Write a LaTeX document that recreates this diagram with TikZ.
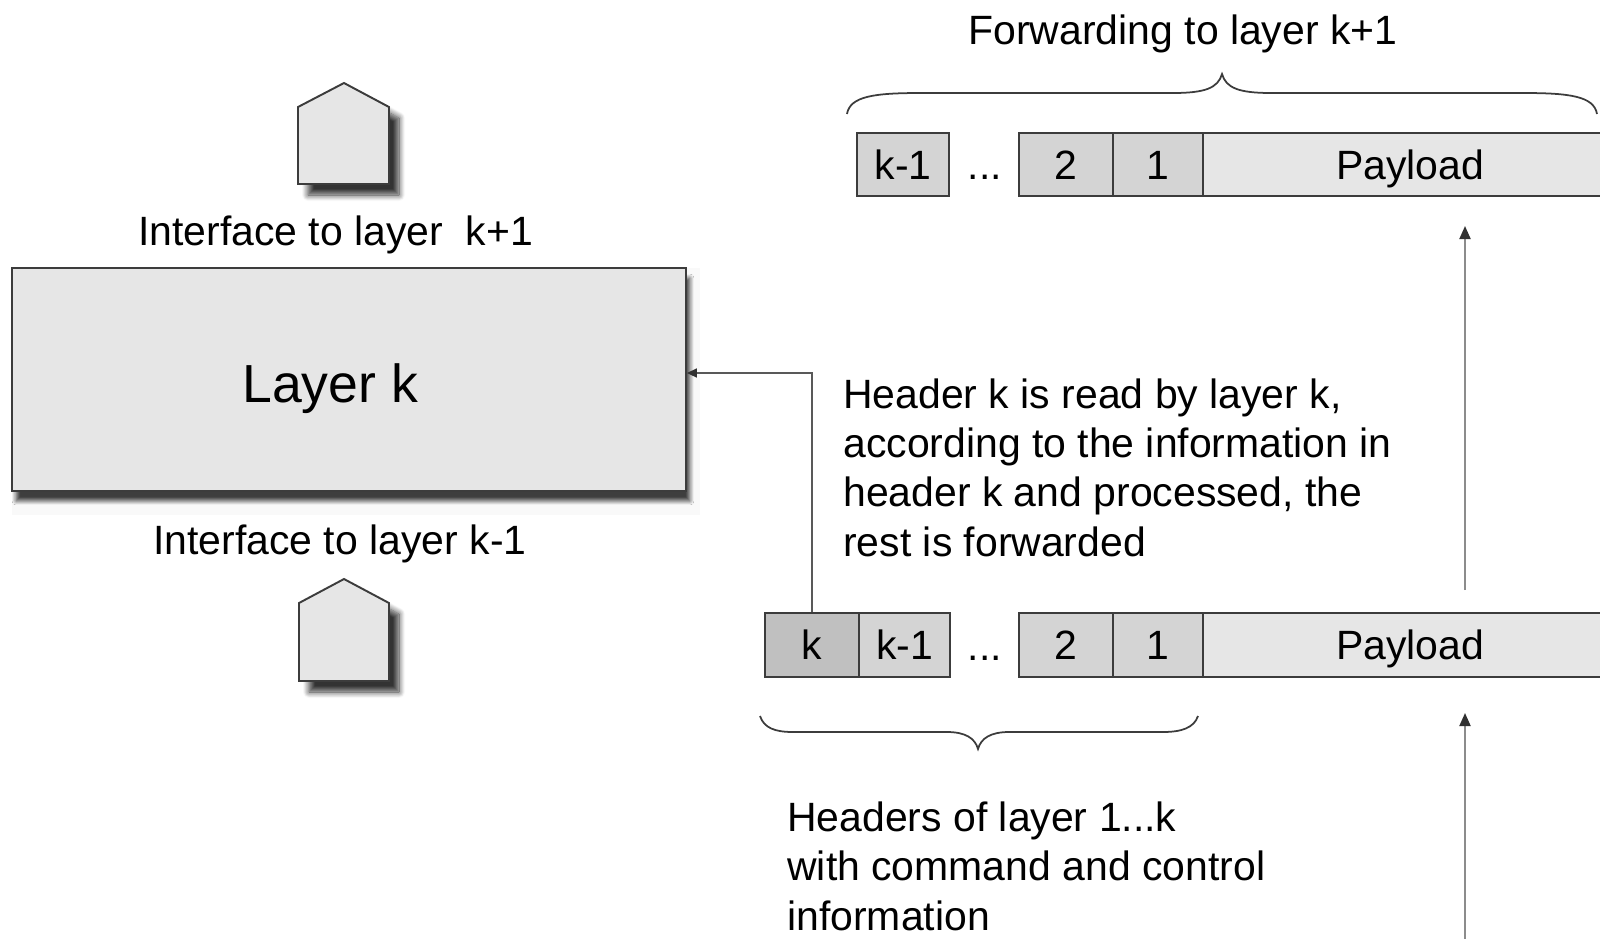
\documentclass[tikz,border=0pt]{standalone}
\usepackage{fontspec}
\setmainfont{Liberation Sans}
\usetikzlibrary{arrows.meta,shadows.blur}

\definecolor{edge}{HTML}{3C3C3C}
\definecolor{boxfill}{HTML}{E6E6E6}
\definecolor{hdrfill}{HTML}{D4D4D4}
\definecolor{kfill}{HTML}{C0C0C0}
\definecolor{flowline}{HTML}{8C8C8C}
\definecolor{tipcol}{HTML}{303030}

\tikzset{
  housebody/.style={draw=edge, line width=1.1pt, fill=boxfill, line join=miter,
    blur shadow={shadow xshift=0.2cm, shadow yshift=-0.22cm,
      shadow blur radius=0.12cm, shadow opacity=80, shadow blur steps=10}},
  layerbox/.style={draw=edge, line width=1.1pt, fill=boxfill, inner sep=0,
    blur shadow={shadow xshift=0.08cm, shadow yshift=-0.2cm,
      shadow blur radius=0.08cm, shadow opacity=75, shadow blur steps=8}},
  cell/.style={draw=edge, line width=0.9pt, inner sep=0, minimum height=1.27cm,
    text height=16.7pt, text depth=0pt},
  plain/.style={inner sep=0},
  para/.style={inner sep=0, align=left},
  flow/.style={draw=flowline, line width=1.1pt,
    -{Triangle[width=0.22cm, length=0.26cm, color=tipcol]}},
  readline/.style={draw=edge!85!white, line width=0.9pt,
    -{Triangle[width=0.18cm, length=0.2cm, color=tipcol]}},
  bracestyle/.style={draw=edge, line width=1pt},
}

\begin{document}
\begin{tikzpicture}[x=0.02cm, y=-0.02cm, font=\fontsize{23.3}{27.9}\selectfont]
\useasboundingbox (0,0) rectangle (1600,938);
\clip (0,0) rectangle (1600,938);

% upper interface (to layer k+1)
\draw[housebody] (298,184) -- (298,107) -- (344,83) -- (389,107) -- (389,184) -- cycle;
\node[plain, anchor=base west] (ifup) at (138,245) {Interface to layer\ \ k+1};

% layer k block
\fill[gray!5] (12,268) rectangle (700,515);
\node[layerbox, minimum width=13.48cm, minimum height=4.46cm] (layer) at (349,379.5) {};
\node[plain, anchor=base west, font=\fontsize{30.5}{36}\selectfont] (layerlbl) at (242,402) {Layer k};

% lower interface (to layer k-1)
\node[plain, anchor=base west] (ifdown) at (153,554) {Interface to layer k-1};
\draw[housebody] (299,681) -- (299,603) -- (344,579) -- (389,603) -- (389,681) -- cycle;

% forwarded frame
\node[plain, anchor=base] (fwdnote) at (1183,44) {Forwarding to layer k+1};
\draw[bracestyle] (847,114) .. controls (850,96) and (875,93) .. (921,93) -- (1173,93)
  .. controls (1205,93) and (1218,88) .. (1222,74)
  .. controls (1226,88) and (1239,93) .. (1271,93) -- (1523,93)
  .. controls (1569,93) and (1594,96) .. (1597,114);
\node[cell, fill=hdrfill, minimum width=1.84cm] (tk1) at (903,164.5) {k-1};
\node[plain, anchor=base] (tdots) at (985,179) {...};
\node[cell, fill=hdrfill, minimum width=1.88cm] (t2) at (1066,164.5) {2};
\node[cell, fill=hdrfill, minimum width=1.80cm] (t1) at (1158,164.5) {1};
\node[cell, fill=boxfill, minimum width=8.28cm] (tpay) at (1410,164.5) {Payload};

% incoming frame
\node[cell, fill=kfill, minimum width=1.88cm] (bk) at (812,645) {k};
\node[cell, fill=hdrfill, minimum width=1.82cm] (bk1) at (904.5,645) {k-1};
\node[plain, anchor=base] (bdots) at (985,660) {...};
\node[cell, fill=hdrfill, minimum width=1.88cm] (b2) at (1066,645) {2};
\node[cell, fill=hdrfill, minimum width=1.80cm] (b1) at (1158,645) {1};
\node[cell, fill=boxfill, minimum width=8.28cm] (bpay) at (1410,645) {Payload};

% header k goes to layer k
\draw[readline] (bk.north) |- ([yshift=0.13cm]layer.east);

% multi-line notes are placed by the baseline of their last line
\node[para, anchor=base west] (readnote) at (843,556)
  {Header k is read by layer k,\\according to the information in\\header k and processed, the\\rest is forwarded};

% data flow upwards
\coordinate (fwdfrom) at (1465,590);
\coordinate (fwdto) at (1465,226);
\coordinate (infrom) at (1465,945);
\coordinate (into) at (1465,713);
\draw[flow] (fwdfrom) -- (fwdto);
\draw[flow] (infrom) -- (into);

% headers brace
\draw[bracestyle] (760,716) .. controls (764,728) and (775,732) .. (793,732) -- (947,732)
  .. controls (965,732) and (975,738) .. (978,749)
  .. controls (981,738) and (991,732) .. (1009,732) -- (1163,732)
  .. controls (1181,732) and (1194,728) .. (1198,716);
\node[para, anchor=base west] (hdrnote) at (787,930)
  {Headers of layer 1...k\\with command and control\\information};
\end{tikzpicture}
\end{document}
